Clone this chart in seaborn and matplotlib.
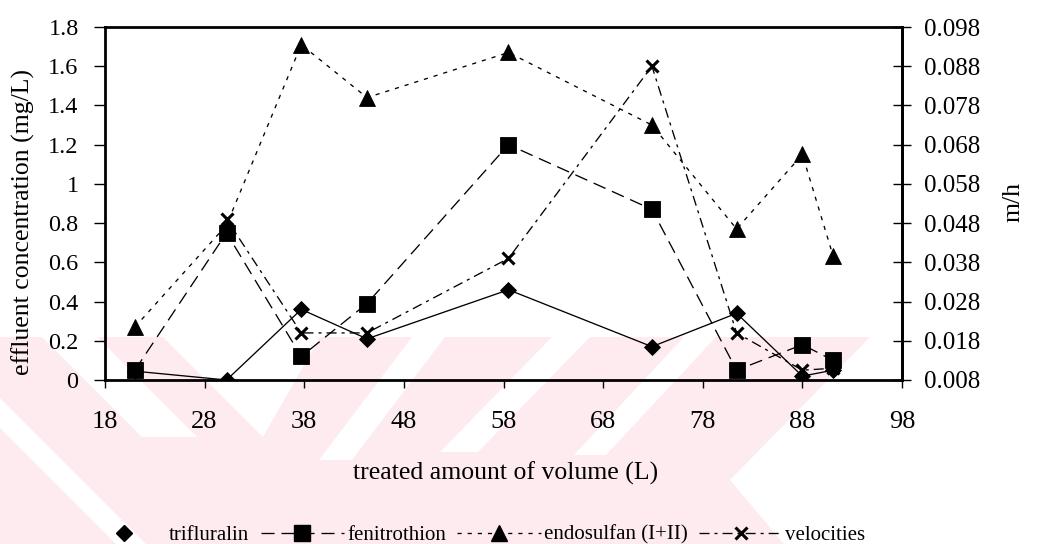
import numpy as np
import pandas as pd
import matplotlib
matplotlib.use("Agg")
import matplotlib.pyplot as plt
from matplotlib.lines import Line2D
from matplotlib.patches import Polygon
from matplotlib.ticker import FixedLocator, FuncFormatter
import seaborn as sns

# ---- data -----------------------------------------------------------------
volume = [21.0, 30.2, 37.7, 44.3, 58.5, 72.9, 81.4, 88.0, 91.1]          # L
trifluralin = [0.045, 0.0, 0.36, 0.21, 0.46, 0.17, 0.34, 0.02, 0.05]      # mg/L
fenitrothion = [0.05, 0.75, 0.12, 0.39, 1.20, 0.87, 0.05, 0.18, 0.10]     # mg/L
endosulfan = [0.27, 0.79, 1.71, 1.44, 1.67, 1.30, 0.77, 1.15, 0.63]       # mg/L
velocity_volume = [30.2, 37.7, 44.3, 58.5, 72.9, 81.4, 88.0, 91.1]        # L
velocities = [0.049, 0.020, 0.020, 0.039, 0.088, 0.020, 0.0105, 0.011]    # m/h

x_ticks = [18, 28, 38, 48, 58, 68, 78, 88, 98]
conc_ticks = [0, 0.2, 0.4, 0.6, 0.8, 1.0, 1.2, 1.4, 1.6, 1.8]
vel_ticks = [0.008, 0.018, 0.028, 0.038, 0.048, 0.058, 0.068, 0.078, 0.088, 0.098]

labels = ["trifluralin", "fenitrothion", "endosulfan (I+II)", "velocities"]

conc = pd.DataFrame({"volume": volume, "trifluralin": trifluralin,
                     "fenitrothion": fenitrothion, "endosulfan": endosulfan})
vel = pd.DataFrame({"volume": velocity_volume, "velocity": velocities})

# ---- style ----------------------------------------------------------------
sns.set_theme(style="ticks")
plt.rcParams.update({
    "font.family": ["Liberation Serif", "DejaVu Serif"],
    "lines.scale_dashes": False,
    "text.color": "black",
    "xtick.color": "black",
    "ytick.color": "black",
})

W, H = 1037, 544
fig = plt.figure(figsize=(W / 100, H / 100), dpi=100)
fig.patch.set_facecolor("white")


def px(points):
    """Pixel coordinates measured from the top-left corner -> display coords."""
    return [(x, H - y) for x, y in points]


# faint background watermark behind the lower part of the page
pink = "#fdebef"
wm_shapes = [
    (pink, [(0, 337), (870, 337), (730, 480), (784, 544), (0, 544)]),
    ("white", [(0, 398), (0, 428), (116, 544), (146, 544)]),
    ("white", [(42, 337), (97, 337), (197, 437), (142, 437)]),
    ("white", [(163, 337), (320, 337), (263, 437)]),
    ("white", [(412, 337), (445, 337), (352, 460), (319, 460)]),
    ("white", [(552, 337), (590, 337), (478, 452), (440, 452)]),
    ("white", [(684, 337), (716, 337), (606, 455), (574, 455)]),
]
for color, pts in wm_shapes:
    fig.patches.append(Polygon(px(pts), closed=True, transform=None,
                               facecolor=color, edgecolor="none", zorder=-5))

# ---- axes -----------------------------------------------------------------
left, right, top, bottom = 105, 902, 27, 380
ax = fig.add_axes([left / W, 1 - bottom / H, (right - left) / W, (bottom - top) / H])
ax.set_facecolor("none")
ax2 = ax.twinx()
ax2.set_facecolor("none")

lw = 0.95
ls_fen = (0, (9.4, 5.0))
ls_endo = (0, (3.0, 4.3))
ls_vel = (0, (7.2, 3.6, 2.2, 3.6))
common = dict(color="black", linewidth=lw, markeredgecolor="black",
              markeredgewidth=0.6, errorbar=None, legend=False)

sns.lineplot(data=conc, x="volume", y="trifluralin", ax=ax, linestyle="-",
             marker="D", markersize=8.3, **common)
sns.lineplot(data=conc, x="volume", y="fenitrothion", ax=ax, linestyle=ls_fen,
             marker="s", markersize=12, **common)
sns.lineplot(data=conc, x="volume", y="endosulfan", ax=ax, linestyle=ls_endo,
             marker="^", markersize=12, **common)
sns.lineplot(data=vel, x="volume", y="velocity", ax=ax2, linestyle=ls_vel,
             marker="x", markersize=9, color="black", linewidth=lw,
             markeredgecolor="black", markeredgewidth=2.2,
             errorbar=None, legend=False)

ax.set_xlim(18, 98)
ax.set_ylim(0, 1.8)
ax2.set_ylim(0.008, 0.098)
ax.xaxis.set_major_locator(FixedLocator(x_ticks))
ax.yaxis.set_major_locator(FixedLocator(conc_ticks))
ax2.yaxis.set_major_locator(FixedLocator(vel_ticks))
ax.yaxis.set_major_formatter(FuncFormatter(lambda v, _: f"{v:g}"))
ax2.yaxis.set_major_formatter(FuncFormatter(lambda v, _: f"{v:.3f}"))
ax.set_xlabel("")
ax.set_ylabel("")
ax2.set_ylabel("")

ax.tick_params(axis="x", direction="out", length=6, width=1, pad=16, labelsize=19)
ax.tick_params(axis="y", direction="out", length=8, width=1, pad=11, labelsize=17.5)
ax2.tick_params(axis="y", direction="inout", length=13, width=1, pad=9, labelsize=18)

for s in ax.spines.values():
    s.set_visible(True)
    s.set_linewidth(2.0)
    s.set_color("black")
for name, s in ax2.spines.items():
    s.set_visible(name == "right")
    s.set_linewidth(2.0)
    s.set_color("black")

# ---- axis titles ----------------------------------------------------------
fig.text(23 / W, 1 - 222 / H, "effluent concentration (mg/L)", rotation=90,
         ha="center", va="center", fontsize=18.5)
fig.text(1013 / W, 1 - 202 / H, "m/h", rotation=90,
         ha="center", va="center", fontsize=18.5)
fig.text(506 / W, 1 - 473 / H, "treated amount of volume (L)",
         ha="center", va="center", fontsize=18.5)

# ---- legend ---------------------------------------------------------------
handles = [
    Line2D([], [], color="black", linestyle="none", marker="D", markersize=8.3),
    Line2D([], [], color="black", linewidth=lw, linestyle=ls_fen, marker="s", markersize=12),
    Line2D([], [], color="black", linewidth=lw, linestyle=ls_endo, marker="^", markersize=12),
    Line2D([], [], color="black", linewidth=lw, linestyle=ls_vel, marker="x",
           markersize=9, markeredgewidth=2.2),
]
fig.legend(handles, labels, loc="center", bbox_to_anchor=(474 / W, 1 - 535 / H),
           ncol=4, frameon=False, fontsize=15, handlelength=4.0,
           handletextpad=0.15, columnspacing=0.55, borderpad=0, borderaxespad=0)

fig.savefig("out.png", dpi=100, facecolor="white")
